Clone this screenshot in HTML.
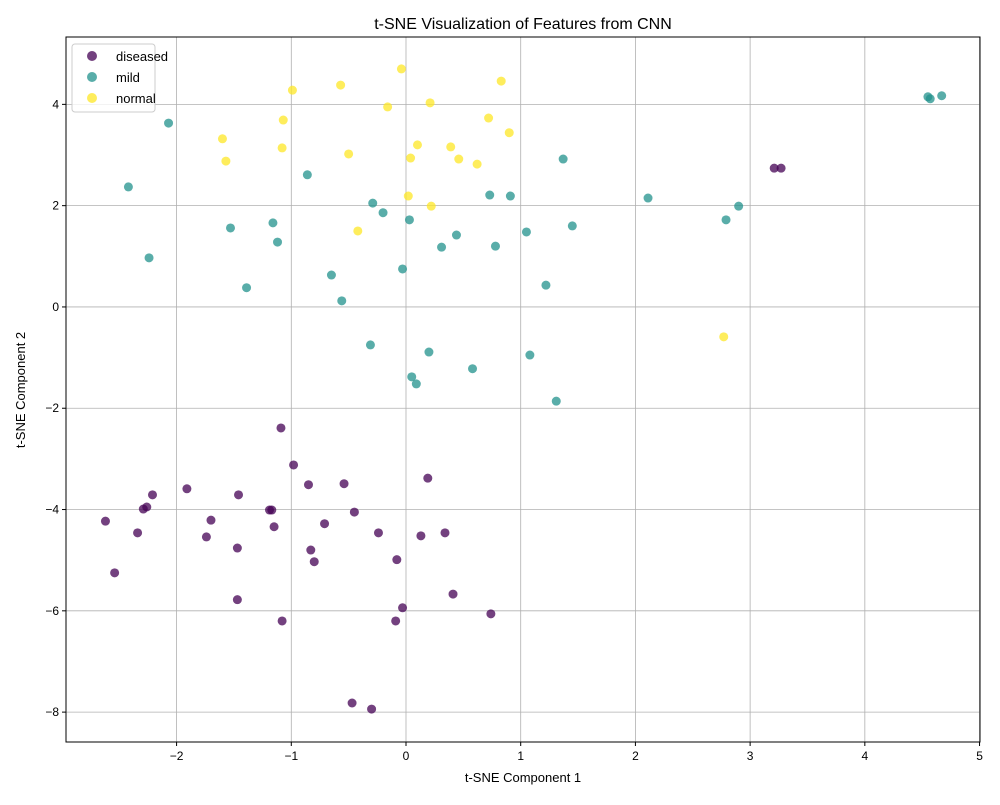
<!DOCTYPE html>
<html><head><meta charset="utf-8"><style>
body{margin:0;background:#fff;}
svg text{font-family:"Liberation Sans","DejaVu Sans",sans-serif;}
</style></head><body>
<svg id="chart" width="1000" height="800" xmlns="http://www.w3.org/2000/svg">
<rect width="1000" height="800" fill="#fff"/>
<text x="523" y="29" font-size="16" text-anchor="middle">t-SNE Visualization of Features from CNN</text>
<text x="523" y="782" font-size="13" text-anchor="middle">t-SNE Component 1</text>
<text x="25" y="390" font-size="13" text-anchor="middle" transform="rotate(-90 25 390)">t-SNE Component 2</text>
<g id="grid"></g><g id="ticks"></g><g id="points"></g>
<rect x="66" y="37" width="914" height="705" fill="none" stroke="#000" stroke-width="1"/>
<g>
<rect x="72" y="44" width="83" height="68" rx="3" fill="#fff" fill-opacity="0.8" stroke="#ccc"/>
<circle cx="92" cy="56" r="5" fill="#440154" fill-opacity="0.75"/><text x="116" y="61" font-size="13">diseased</text>
<circle cx="92" cy="77" r="5" fill="#21918c" fill-opacity="0.75"/><text x="116" y="82" font-size="13">mild</text>
<circle cx="92" cy="98" r="5" fill="#fde725" fill-opacity="0.75"/><text x="116" y="103" font-size="13">normal</text>
</g>
</svg>
<script>
const xTicks=[-2,-1,0,1,2,3,4,5];
const yTicks=[4,2,0,-2,-4,-6,-8];
const diseasedX=[-1.09,-0.98,-1.91,-2.21,-1.46,-0.85,-0.54,0.19,-2.26,-2.29,-1.19,-1.17,-0.45,-2.62,-1.70,-1.15,-0.71,-2.34,-1.74,-0.24,0.13,0.34,-1.47,-0.83,-0.80,-0.08,-2.54,0.41,-1.47,-0.03,0.74,-1.08,-0.09,-0.47,-0.30,3.21,3.27];
const diseasedY=[-2.39,-3.12,-3.59,-3.71,-3.71,-3.51,-3.49,-3.38,-3.95,-3.99,-4.01,-4.01,-4.05,-4.23,-4.21,-4.34,-4.28,-4.46,-4.54,-4.46,-4.52,-4.46,-4.76,-4.80,-5.03,-4.99,-5.25,-5.67,-5.78,-5.94,-6.06,-6.20,-6.20,-7.82,-7.94,2.74,2.74];
const mildX=[-2.07,-2.42,-0.86,1.37,4.55,4.57,4.67,2.11,2.90,2.79,0.73,0.91,-0.29,-0.20,0.03,-1.53,-1.16,-1.12,0.44,0.31,0.78,1.05,1.45,-2.24,-0.65,-0.03,-1.39,-0.56,1.22,-0.31,0.20,1.08,0.58,0.05,0.09,1.31];
const mildY=[3.63,2.37,2.61,2.92,4.15,4.11,4.17,2.15,1.99,1.72,2.21,2.19,2.05,1.86,1.72,1.56,1.66,1.28,1.42,1.18,1.20,1.48,1.60,0.97,0.63,0.75,0.38,0.12,0.43,-0.75,-0.89,-0.95,-1.22,-1.38,-1.52,-1.86];
const normalX=[-0.04,0.83,-0.99,-0.57,-0.16,0.21,-1.07,0.72,-1.60,0.90,-1.08,0.10,0.39,-1.57,-0.50,0.04,0.46,0.62,0.02,0.22,-0.42,2.77];
const normalY=[4.70,4.46,4.28,4.38,3.95,4.03,3.69,3.73,3.32,3.44,3.14,3.20,3.16,2.88,3.02,2.94,2.92,2.82,2.19,1.99,1.50,-0.59];
const NS="http://www.w3.org/2000/svg";
const L=66,R=980,T=37,B=742,xMin=-2.964,xMax=5.004,yMin=-8.59,yMax=5.33;
function sx(v){return L+(v-xMin)/(xMax-xMin)*(R-L);}
function sy(v){return B-(v-yMin)/(yMax-yMin)*(B-T);}
const grid=document.getElementById('grid'),ticks=document.getElementById('ticks'),pts=document.getElementById('points');
function mk(tag,attrs,parent){const e=document.createElementNS(NS,tag);for(const k in attrs)e.setAttribute(k,attrs[k]);parent.appendChild(e);return e;}
xTicks.forEach(v=>{const x=sx(v);
 const g=mk('line',{x1:x,x2:x,y1:T,y2:B,stroke:'#b0b0b0','stroke-width':0.8},grid);
 
 
 mk('line',{x1:x,x2:x,y1:B,y2:B+4,stroke:'#000'},ticks);
 const t=mk('text',{x:x,y:B+18,'font-size':12,'text-anchor':'middle'},ticks);t.textContent=v<0?'\u2212'+(-v):v;
 
 
});
yTicks.forEach(v=>{const y=sy(v);
 const g=mk('line',{x1:L,x2:R,y1:y,y2:y,stroke:'#b0b0b0','stroke-width':0.8},grid);
 
 
 mk('line',{x1:L-4,x2:L,y1:y,y2:y,stroke:'#000'},ticks);
 const t=mk('text',{x:L-7,y:y+4,'font-size':12,'text-anchor':'end'},ticks);t.textContent=v<0?'\u2212'+(-v):v;
 
 
});
function series(xs,ys,color,name){xs.forEach((v,i)=>{
 const c=mk('circle',{cx:sx(v),cy:sy(ys[i]),r:4.5,fill:color,'fill-opacity':0.75},pts);
 
 
});}
series(diseasedX,diseasedY,'#440154','diseased');
series(mildX,mildY,'#21918c','mild');
series(normalX,normalY,'#fde725','normal');
</script>
</body></html>
